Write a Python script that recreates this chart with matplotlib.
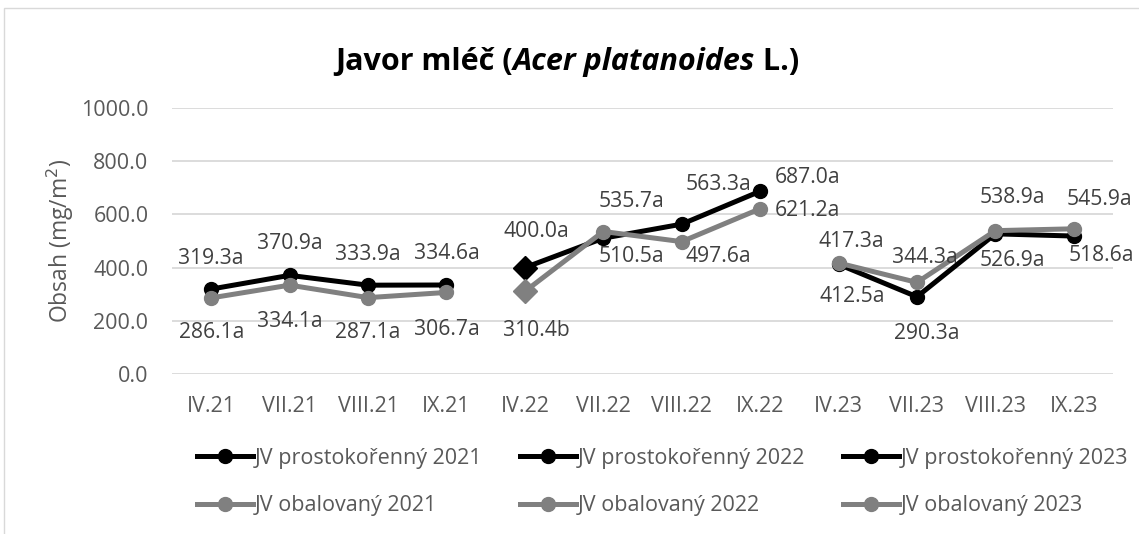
import numpy as np
import matplotlib
matplotlib.use('Agg')
import matplotlib.pyplot as plt
from matplotlib.offsetbox import TextArea, HPacker, AnchoredOffsetbox
from matplotlib.patches import Rectangle

plt.rcParams['font.family'] = ['Open Sans', 'DejaVu Sans']

# data
categories = ['IV.21', 'VII.21', 'VIII.21', 'IX.21',
              'IV.22', 'VII.22', 'VIII.22', 'IX.22',
              'IV.23', 'VII.23', 'VIII.23', 'IX.23']
years = ['2021', '2022', '2023']
prosto = [[319.3, 370.9, 333.9, 334.6],
          [400.0, 510.5, 563.3, 687.0],
          [412.5, 290.3, 526.9, 518.6]]
obal = [[286.1, 334.1, 287.1, 306.7],
        [310.4, 535.7, 497.6, 621.2],
        [417.3, 344.3, 538.9, 545.9]]
prosto_sig = [['a', 'a', 'a', 'a'], ['a', 'a', 'a', 'a'], ['a', 'a', 'a', 'a']]
obal_sig = [['a', 'a', 'a', 'a'], ['b', 'a', 'a', 'a'], ['a', 'a', 'a', 'a']]

# label offsets in pixels (dx, dy up), taken from the reference layout
prosto_off = [[(0, 31), (0, 32), (0, 31), (0, 31)],
              [(12, 36), (28, -18), (37, 40), (47, 14)],
              [(14, -32), (10, -37), (17, -27), (28, -19)]]
obal_off = [[(0, -35), (0, -36), (0, -35), (0, -37)],
            [(12, -39), (28, 30), (37, -15), (47, -2)],
            [(13, 21), (8, 25), (17, 33), (26, 29)]]

W, H = 1139, 534
fig = plt.figure(figsize=(W / 100, H / 100), dpi=100)
ax = fig.add_axes([172 / W, 1 - 374 / H, (1113 - 172) / W, (374 - 108) / H])

BLACK = '#000000'
GRAY = '#808080'
TXT = '#404040'
TICK = '#595959'
px = 0.72  # points per pixel
FS = 15.2

handles = {}
for s, (series, sig, off, color, name) in enumerate([
        (prosto, prosto_sig, prosto_off, BLACK, 'JV prostokořenný'),
        (obal, obal_sig, obal_off, GRAY, 'JV obalovaný')]):
    for k, yr in enumerate(years):
        xs = np.arange(4 * k, 4 * k + 4)
        vals = series[k]
        ln, = ax.plot(xs, vals, color=color, lw=3.6, marker='o', ms=10,
                      solid_joinstyle='round', zorder=3 + s, label=f'{name} {yr}')
        handles[(s, k)] = ln
        if yr == '2022':
            ax.plot(xs[0], vals[0], marker='D', ms=12.5, color=color,
                    ls='none', zorder=3 + s)
        for i in range(4):
            dx, dy = off[k][i]
            ax.annotate(f'{vals[i]:.1f}{sig[k][i]}', (xs[i], vals[i]),
                        xytext=(dx * px, dy * px), textcoords='offset points',
                        ha='center', va='center', fontsize=FS, color=TXT,
                        zorder=6)

ax.set_xlim(-0.5, len(categories) - 0.5)
ax.set_ylim(0, 1000)
ax.set_yticks(np.arange(0, 1001, 200))
ax.set_yticklabels([f'{v:.1f}' for v in np.arange(0, 1001, 200)])
ax.set_xticks(np.arange(len(categories)))
ax.set_xticklabels(categories)
ax.tick_params(axis='both', length=0, labelsize=15.5, labelcolor=TICK)
ax.tick_params(axis='y', pad=17)
ax.tick_params(axis='x', pad=16)
ax.grid(axis='y', color='#d9d9d9', lw=1.3)
ax.set_axisbelow(True)
for sp in ax.spines.values():
    sp.set_visible(False)

fig.text(60 / W, 1 - 241 / H, 'Obsah (mg/m$^2$)', rotation=90, ha='center', va='center',
         fontsize=16.5, color=TICK)

# title with italic species name
title_parts = [TextArea('Javor mléč (', textprops=dict(fontsize=22, fontweight='bold')),
               TextArea('Acer platanoides', textprops=dict(fontsize=22, fontweight='bold', fontstyle='italic')),
               TextArea(' L.)', textprops=dict(fontsize=22, fontweight='bold'))]
box = HPacker(children=title_parts, align='baseline', pad=0, sep=0)
anchored = AnchoredOffsetbox(loc='center', child=box, pad=0, borderpad=0, frameon=False,
                             bbox_to_anchor=(567 / W, 1 - 62 / H),
                             bbox_transform=fig.transFigure)
fig.add_artist(anchored)

# legend, one block per year column
for k, x0 in enumerate([197, 520, 843]):
    fig.legend(handles=[handles[(0, k)], handles[(1, k)]], loc='center left',
               bbox_to_anchor=(x0 / W, 1 - 482 / H), frameon=False, fontsize=15.5,
               labelcolor=TICK, handlelength=2.6, handletextpad=0.1,
               borderpad=0, borderaxespad=0, labelspacing=1.25)

# chart area border
fig.add_artist(Rectangle((4 / W, -0.1), 1.1, 1.1 - 8 / H, transform=fig.transFigure,
                         fill=False, ec='#d9d9d9', lw=1))

fig.savefig('out.png', dpi=100)
